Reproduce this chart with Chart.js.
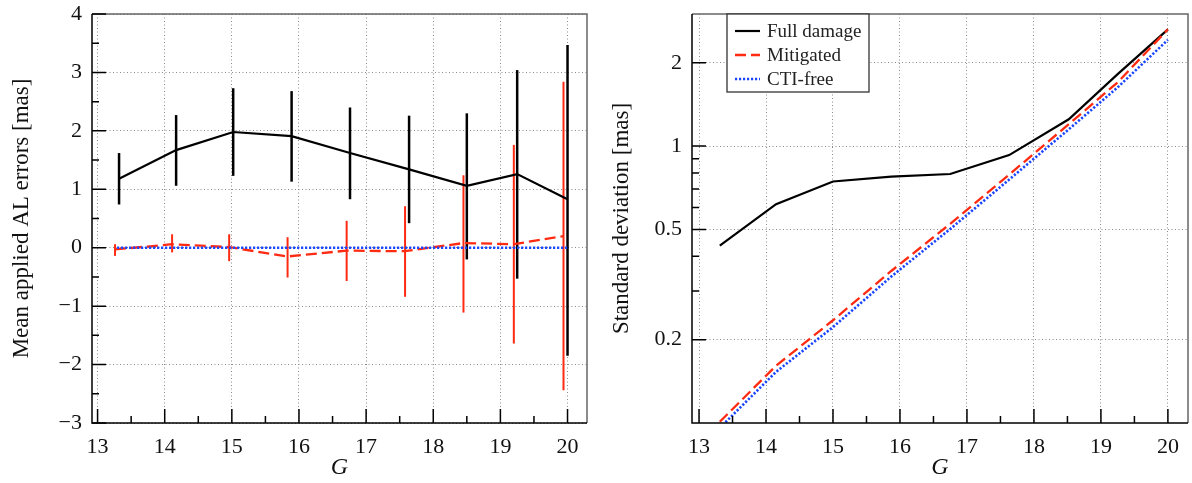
<!DOCTYPE html>
<html>
<head>
<meta charset="utf-8">
<script src="https://cdn.jsdelivr.net/npm/chart.js@4.4.1/dist/chart.umd.min.js"></script>
<style>
  html, body { margin: 0; padding: 0; background: #fff; }
  .panel { position: absolute; top: 0; width: 596px; height: 483px; }
</style>
</head>
<body>
<div class="panel" style="left:0"><canvas id="meanChart" width="596" height="483"></canvas></div>
<div class="panel" style="left:596px"><canvas id="sdChart" width="596" height="483"></canvas></div>
<script>
// ---------- data ----------
const seriesNames = ["Full damage", "Mitigated", "CTI-free"];

// left panel: mean applied AL error per magnitude bin
const gFull = [13.32, 14.17, 15.02, 15.89, 16.76, 17.64, 18.50, 19.25, 20.00];
const gMit  = [13.26, 14.11, 14.96, 15.83, 16.71, 17.58, 18.45, 19.20, 19.94];
const gFree = [13.29, 14.17, 15.02, 15.89, 16.76, 17.64, 18.50, 19.25, 20.00];

const meanFull   = [1.18, 1.67, 1.98, 1.91, 1.62, 1.34, 1.06, 1.26, 0.83];
const meanFullLo = [0.74, 1.06, 1.23, 1.13, 0.83, 0.42, -0.20, -0.53, -1.85];
const meanFullHi = [1.62, 2.27, 2.73, 2.68, 2.40, 2.26, 2.30, 3.04, 3.47];
const meanMit    = [-0.03, 0.06, 0.01, -0.15, -0.05, -0.06, 0.08, 0.06, 0.20];
const meanMitLo  = [-0.14, -0.08, -0.23, -0.51, -0.57, -0.84, -1.11, -1.64, -2.44];
const meanMitHi  = [0.06, 0.23, 0.23, 0.18, 0.46, 0.71, 1.24, 1.76, 2.84];
const meanFree   = [0, 0, 0, 0, 0, 0, 0, 0, 0];

// right panel: standard deviation per bin
const gSd    = [13.31, 14.15, 15.00, 15.87, 16.75, 17.63, 18.52, 19.25, 20.00];
const sdFull = [0.437, 0.617, 0.745, 0.776, 0.793, 0.928, 1.25, 1.82, 2.64];
const sdMit  = [0.101, 0.161, 0.235, 0.354, 0.524, 0.789, 1.20, 1.70, 2.64];
const sdFree = [0.096, 0.153, 0.222, 0.338, 0.502, 0.757, 1.15, 1.63, 2.42];

// ticks
const gTicks    = [13, 14, 15, 16, 17, 18, 19, 20];
const gMinor    = [13.5, 14.5, 15.5, 16.5, 17.5, 18.5, 19.5];
const meanTicks = [-3, -2, -1, 0, 1, 2, 3, 4];
const meanMinor = [-2.5, -1.5, -0.5, 0.5, 1.5, 2.5, 3.5];
const sdTicks   = [0.2, 0.5, 1, 2];
const sdMinor   = [0.3, 0.4, 0.6, 0.7, 0.8, 0.9];

// ---------- styling ----------
const serif = "'Liberation Serif', 'DejaVu Serif', serif";
Chart.defaults.font.family = serif;
Chart.defaults.color = '#111';

const colFull = '#000000';
const colMit = '#ff2a12';
const colFree = '#1a45ff';

const pts = (xs, ys) => xs.map((x, i) => ({ x: x, y: ys[i] }));

// frame, inward ticks, error bars and inset legend
const panelFrame = {
  id: 'panelFrame',
  beforeDatasetsDraw(chart) {
    const ctx = chart.ctx, a = chart.chartArea;
    const xs = chart.scales.x, ys = chart.scales.y;
    ctx.save();
    ctx.beginPath();
    ctx.rect(a.left, a.top, a.right - a.left, a.bottom - a.top);
    ctx.clip();
    chart.data.datasets.forEach(ds => {
      if (!ds.errLo) return;
      ctx.strokeStyle = ds.borderColor;
      ctx.lineWidth = ds.errWidth || 2;
      ds.data.forEach((p, i) => {
        const px = xs.getPixelForValue(p.x);
        ctx.beginPath();
        ctx.moveTo(px, ys.getPixelForValue(ds.errLo[i]));
        ctx.lineTo(px, ys.getPixelForValue(ds.errHi[i]));
        ctx.stroke();
      });
    });
    ctx.restore();
  },
  afterDraw(chart, args, opts) {
    const ctx = chart.ctx, a = chart.chartArea;
    const xs = chart.scales.x, ys = chart.scales.y;
    ctx.save();
    // top and right edges
    ctx.strokeStyle = '#666';
    ctx.lineWidth = 1.5;
    ctx.beginPath();
    ctx.moveTo(a.left, a.top);
    ctx.lineTo(a.right, a.top);
    ctx.lineTo(a.right, a.bottom);
    ctx.stroke();
    // ticks on left and bottom
    ctx.strokeStyle = '#000';
    ctx.lineWidth = 1.5;
    ctx.beginPath();
    opts.xMajor.forEach(v => { const p = xs.getPixelForValue(v); ctx.moveTo(p, a.bottom); ctx.lineTo(p, a.bottom - 14); });
    opts.xMinor.forEach(v => { const p = xs.getPixelForValue(v); ctx.moveTo(p, a.bottom); ctx.lineTo(p, a.bottom - 7); });
    opts.yMajor.forEach(v => { const p = ys.getPixelForValue(v); ctx.moveTo(a.left, p); ctx.lineTo(a.left + 14, p); });
    opts.yMinor.forEach(v => { const p = ys.getPixelForValue(v); ctx.moveTo(a.left, p); ctx.lineTo(a.left + 7, p); });
    ctx.stroke();
    ctx.beginPath();
    ctx.moveTo(a.left, a.top);
    ctx.lineTo(a.left, a.bottom);
    ctx.lineTo(a.right, a.bottom);
    ctx.stroke();

    if (opts.legend) {
      const bx = a.left + 35, by = a.top, bw = 142, bh = 78;
      ctx.fillStyle = '#fff';
      ctx.fillRect(bx, by, bw, bh);
      ctx.strokeStyle = '#333';
      ctx.lineWidth = 1.3;
      ctx.strokeRect(bx, by, bw, bh);
      ctx.font = '19px ' + serif;
      ctx.textBaseline = 'middle';
      ctx.fillStyle = '#222';
      chart.data.datasets.forEach((ds, i) => {
        const y = by + 17 + i * 24;
        ctx.strokeStyle = ds.borderColor;
        ctx.lineWidth = ds.borderWidth;
        ctx.setLineDash(ds.borderDash || []);
        ctx.beginPath();
        ctx.moveTo(bx + 8, y);
        ctx.lineTo(bx + 33, y);
        ctx.stroke();
        ctx.setLineDash([]);
        ctx.fillText(ds.label, bx + 40, y + 1);
      });
    }
    ctx.restore();
  }
};

function gAxis(minV, maxV) {
  return {
    type: 'linear',
    min: minV,
    max: maxV,
    afterBuildTicks: s => { s.ticks = gTicks.map(v => ({ value: v })); },
    afterFit: s => { s.height = 60; s.paddingLeft = 0; s.paddingRight = 0; },
    grid: { color: '#8a8a8a', lineWidth: 1, drawTicks: false },
    border: { display: false, dash: [1, 2.5] },
    ticks: { font: { size: 22 }, padding: 11, maxRotation: 0, autoSkip: false, color: '#111' },
    title: { display: true, text: 'G', font: { size: 24, style: 'italic' }, color: '#111', padding: { top: 0, bottom: 1 } }
  };
}

function lineSet(label, data, color, dash, width, order) {
  return {
    label: label,
    data: data,
    borderColor: color,
    backgroundColor: color,
    borderWidth: width,
    borderDash: dash,
    pointRadius: 0,
    tension: 0,
    fill: false,
    order: order
  };
}

// ---------- left panel: mean errors ----------
const meanSets = [
  Object.assign(lineSet(seriesNames[0], pts(gFull, meanFull), colFull, [], 2.2, 2), { errLo: meanFullLo, errHi: meanFullHi, errWidth: 2.5 }),
  Object.assign(lineSet(seriesNames[1], pts(gMit, meanMit), colMit, [11, 5], 2.3, 1), { errLo: meanMitLo, errHi: meanMitHi, errWidth: 2 }),
  lineSet(seriesNames[2], pts(gFree, meanFree), colFree, [2.2, 1.8], 2.6, 0)
];

new Chart(document.getElementById('meanChart'), {
  type: 'line',
  data: { datasets: meanSets },
  options: {
    responsive: false,
    animation: false,
    layout: { padding: { top: 14, right: 9, left: 0, bottom: 0 } },
    plugins: {
      legend: { display: false },
      tooltip: { enabled: false },
      panelFrame: { xMajor: gTicks, xMinor: gMinor, yMajor: meanTicks, yMinor: meanMinor, legend: false }
    },
    scales: {
      x: gAxis(12.917, 20.29),
      y: {
        type: 'linear',
        min: -3,
        max: 4,
        afterBuildTicks: s => { s.ticks = meanTicks.map(v => ({ value: v })); },
        afterFit: s => { s.width = 92; s.paddingTop = 0; s.paddingBottom = 0; },
        grid: { color: '#8a8a8a', lineWidth: 1, drawTicks: false },
        border: { display: false, dash: [1, 2.5] },
        ticks: { font: { size: 22 }, padding: 10, color: '#111', callback: v => String(v).replace('-', '\u2212') },
        title: { display: true, text: 'Mean applied AL errors [mas]', font: { size: 23 }, color: '#111', padding: { top: 8, bottom: 0 } }
      }
    }
  },
  plugins: [panelFrame]
});

// ---------- right panel: standard deviation ----------
const sdSets = [
  lineSet(seriesNames[0], pts(gSd, sdFull), colFull, [], 2.2, 2),
  lineSet(seriesNames[1], pts(gSd, sdMit), colMit, [11, 5], 2.3, 1),
  lineSet(seriesNames[2], pts(gSd, sdFree), colFree, [2.2, 1.8], 2.6, 0)
];

new Chart(document.getElementById('sdChart'), {
  type: 'line',
  data: { datasets: sdSets },
  options: {
    responsive: false,
    animation: false,
    layout: { padding: { top: 14, right: 4, left: 0, bottom: 0 } },
    plugins: {
      legend: { display: false },
      tooltip: { enabled: false },
      panelFrame: { xMajor: gTicks, xMinor: gMinor, yMajor: sdTicks, yMinor: sdMinor, legend: true }
    },
    scales: {
      x: gAxis(12.895, 20.30),
      y: {
        type: 'logarithmic',
        min: 0.1,
        max: 3,
        afterBuildTicks: s => { s.ticks = sdTicks.map(v => ({ value: v })); },
        afterFit: s => { s.width = 96; s.paddingTop = 0; s.paddingBottom = 0; },
        grid: { color: '#8a8a8a', lineWidth: 1, drawTicks: false },
        border: { display: false, dash: [1, 2.5] },
        ticks: { font: { size: 22 }, padding: 10, color: '#111', callback: v => String(v) },
        title: { display: true, text: 'Standard deviation [mas]', font: { size: 23 }, color: '#111', padding: { top: 12, bottom: 0 } }
      }
    }
  },
  plugins: [panelFrame]
});
</script>
</body>
</html>
